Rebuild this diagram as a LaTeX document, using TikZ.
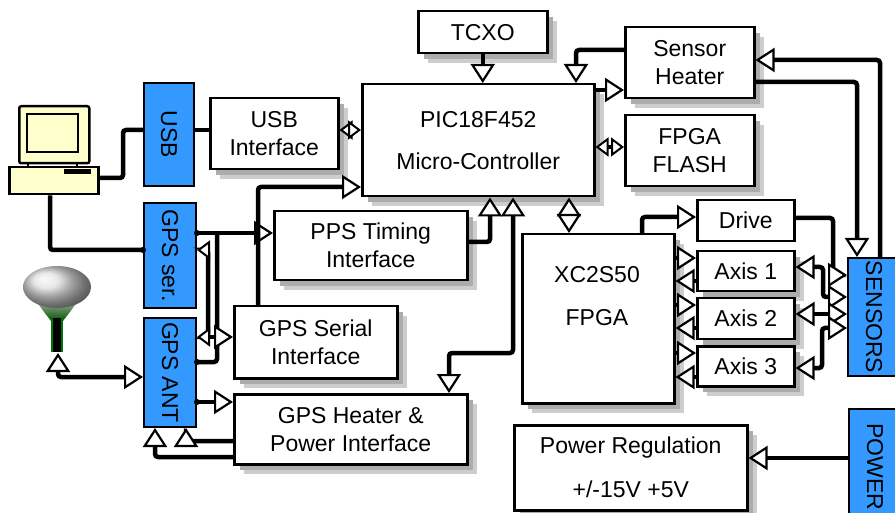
\documentclass[tikz,border=0pt]{standalone}
\usepackage{fontspec}
\setmainfont{Liberation Sans}
\usetikzlibrary{arrows.meta}
\definecolor{bluebx}{RGB}{51,153,255}
\definecolor{pcyellow}{RGB}{255,255,204}
\definecolor{shadowlight}{RGB}{205,205,205}
\definecolor{shadowdark}{RGB}{172,172,172}
\newcommand\shadowrect[4]{%
  \fill[shadowlight] (#1+11,#2+11) rectangle (#3+11,#4+11);
  \fill[shadowdark] (#1+7,#2+7) rectangle (#3+7,#4+7);}
\begin{document}
\begin{tikzpicture}[x=1pt,y=-1pt,
  box/.style={draw, line width=2.5pt, fill=white, inner sep=0pt, align=center, anchor=north west,
    font=\fontsize{23}{28}\selectfont},
  bbox/.style={draw, line width=2pt, fill=bluebx, inner sep=0pt, anchor=north west,
    font=\fontsize{23}{28}\selectfont},
  pcpart/.style={draw, line width=2.5pt, fill=pcyellow, inner sep=0pt, anchor=north west},
  conn/.style={line width=4.5pt, rounded corners=3pt},
  shorttips/.style={>={Triangle[fill=white, length=13pt, width=19pt, line width=2pt]}},
  >={Triangle[fill=white, length=19pt, width=24pt, line width=2.2pt]},
]
\useasboundingbox (0,0) rectangle (895,513);
\clip (0,0) rectangle (895,513);

% shadows of the white boxes
\shadowrect{417}{10}{546}{52}
\shadowrect{361}{83}{593}{195}
\shadowrect{209}{97}{337}{168}
\shadowrect{624}{26}{753}{97}
\shadowrect{624}{114}{753}{185}
\shadowrect{273}{210}{466}{279}
\shadowrect{233}{305}{396}{377}
\shadowrect{233}{393}{466}{463}
\shadowrect{521}{233}{673}{402}
\shadowrect{696}{250}{793}{290}
\shadowrect{696}{297}{793}{338}
\shadowrect{696}{345}{793}{385}
\shadowrect{513}{424}{746}{509}

% computer
\node[pcpart, minimum width=70, minimum height=57, rounded corners=2pt] (pcmon) at (18,105) {};
\draw[line width=2.5pt, fill=pcyellow] (27,114) rectangle (78,152);
\draw[line width=2.5pt] (28,162) -- (28,167) (77,162) -- (77,167);
\node[pcpart, minimum width=89, minimum height=27] (pc) at (8,166) {};
\fill (64,169) rectangle (91,174);

% antenna
\shade[top color=gray!60, bottom color=green!35!black] (34,298) .. controls (44,312) .. (51,321) -- (63,321) .. controls (70,312) .. (80,298) -- cycle;
\shade[ball color=gray!25] (57,287) ellipse [x radius=34, y radius=21];
\fill[black] (52,318) rectangle (62,352);
\draw[green!45!black, line width=1.5pt] (52,318) -- (52,352) (62,318) -- (62,352);
\coordinate (antfoot) at (58,353);

% white boxes
\node[box, minimum width=129, minimum height=42] (tcxo) at (417,10) {TCXO};
\node[box, minimum width=232, minimum height=112, font=\fontsize{23}{42}\selectfont] (pic) at (361,83) {PIC18F452\\Micro-Controller};
\node[box, minimum width=128, minimum height=71] (usbif) at (209,97) {USB\\Interface};
\node[box, minimum width=129, minimum height=71] (sheater) at (624,26) {Sensor\\Heater};
\node[box, minimum width=129, minimum height=71] (flash) at (624,114) {FPGA\\FLASH};
\node[box, minimum width=193, minimum height=69] (pps) at (273,210) {PPS Timing\\Interface};
\node[box, minimum width=163, minimum height=72] (gpssif) at (233,305) {GPS Serial\\Interface};
\node[box, minimum width=233, minimum height=70] (gpsheat) at (233,393) {GPS Heater \&\\Power Interface};
\node[box, minimum width=152, minimum height=169] (fpga) at (521,233) {};
\node[align=center, font=\fontsize{23}{43}\selectfont] (fpgatxt) at (597,296) {XC2S50\\FPGA};
\node[box, minimum width=97, minimum height=41] (drive) at (696,199) {Drive};
\node[box, minimum width=97, minimum height=40] (axis1) at (696,250) {Axis 1};
\node[box, minimum width=97, minimum height=41] (axis2) at (696,297) {Axis 2};
\node[box, minimum width=97, minimum height=40] (axis3) at (696,345) {Axis 3};
\node[box, minimum width=233, minimum height=85, font=\fontsize{23}{44}\selectfont] (preg) at (513,424) {Power Regulation\\+/-15V +5V};

% blue boxes
\node[bbox, minimum width=50, minimum height=103] (usb) at (143,82) {\rotatebox{-90}{USB}};
\node[bbox, minimum width=52, minimum height=105] (gpsser) at (143,202) {\rotatebox{-90}{GPS ser.}};
\node[bbox, minimum width=52, minimum height=109] (gpsant) at (143,317) {\rotatebox{-90}{GPS ANT}};
\node[bbox, minimum width=52, minimum height=118] (sensors) at (847,257) {\rotatebox{-90}{SENSORS}};
\node[bbox, minimum width=52, minimum height=115] (power) at (848,408) {\rotatebox{-90}{POWER}};

% connectors
\draw[conn] (pc.east |- 0,178) -| (123,130) -- (usb.west |- 0,130);
\draw[conn] (usb.east |- 0,130) -- (usbif.west |- 0,130);
\draw[conn] (50,0 |- pc.south) |- (gpsser.west |- 0,250);
\draw[conn,shorttips,<->] (usbif.east |- 0,130) -- (pic.west |- 0,130);
\draw[conn,->] (gpsser.east |- 0,233) -- (pps.west |- 0,233);
\draw[conn,->] (258,0 |- gpssif.north) |- (pic.west |- 0,187);
\draw[conn] (gpsant.east |- 0,362) -| (217,233);
\draw[conn,shorttips,<->] (gpsser.east |- 0,250) -| (208,337) -- (gpsant.east |- 0,337);
\draw[conn,->] (208,337) -- (gpssif.west |- 0,337);
\draw[conn,->] (gpsant.east |- 0,402) -- (gpsheat.west |- 0,402);
\draw[conn,->] (gpsheat.west |- 0,441) -| (186,0 |- gpsant.south);
\draw[conn,->] (gpsheat.west |- 0,457) -| (155,0 |- gpsant.south);
\draw[conn,<->] (antfoot) |- (gpsant.west |- 0,377);
\draw[conn,->] (pps.east |- 0,242) -| (490,0 |- pic.south);
\draw[conn,<->] (513,0 |- pic.south) |- (449,353) -- (449,0 |- gpsheat.north);
\draw[conn,<->] (569,0 |- pic.south) -- (569,0 |- fpga.north);
\draw[conn,->] (642,0 |- fpga.north) |- (drive.west |- 0,217);

\draw[conn,->] (fpga.east |- 0,258) -- (axis1.west |- 0,258);
\draw[conn,->] (axis1.west |- 0,281) -- (fpga.east |- 0,281);
\draw[conn,->] (fpga.east |- 0,305) -- (axis2.west |- 0,305);
\draw[conn,->] (axis2.west |- 0,328) -- (fpga.east |- 0,328);
\draw[conn,->] (fpga.east |- 0,353) -- (axis3.west |- 0,353);
\draw[conn,->] (axis3.west |- 0,377) -- (fpga.east |- 0,377);

\draw[conn,->] (drive.east |- 0,218) -| (833,275) -- (sensors.west |- 0,275);
\draw[conn,<->] (axis1.east |- 0,267) -| (823,297) -- (sensors.west |- 0,297);
\draw[conn,<->] (axis2.east |- 0,314) -- (sensors.west |- 0,314);
\draw[conn,<->] (axis3.east |- 0,368) -| (822,328) -- (sensors.west |- 0,328);

\draw[conn,->] (pic.east |- 0,90) -- (sheater.west |- 0,90);
\draw[conn,->] (sheater.west |- 0,50) -| (576,0 |- pic.north);
\draw[conn,->] (880,0 |- sensors.north) |- (sheater.east |- 0,60);
\draw[conn,->] (sheater.east |- 0,82) -| (857,0 |- sensors.north);
\draw[conn,shorttips,<->] (pic.east |- 0,147) -- (flash.west |- 0,147);
\draw[conn,->] (tcxo.south) -- (tcxo.south |- pic.north);
\draw[conn,->] (power.west |- 0,458) -- (preg.east |- 0,458);

% junction dots
\fill (gpsser.east |- 0,233) circle (3);
\fill (gpsser.west |- 0,250) circle (3);
\fill (gpsant.east |- 0,362) circle (3);
\fill (gpsant.east |- 0,402) circle (3);
\end{tikzpicture}
\end{document}
